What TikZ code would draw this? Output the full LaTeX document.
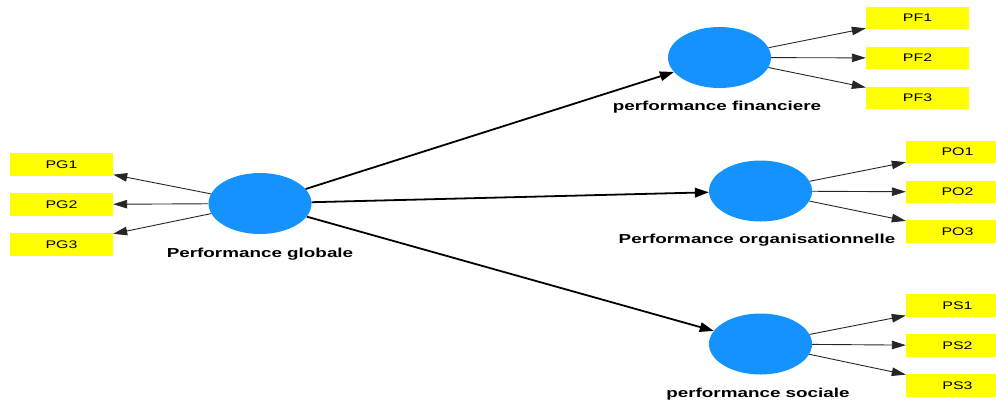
\documentclass[tikz,border=0pt]{standalone}
\usepackage{fontspec}
\setmainfont{Liberation Sans}[FakeStretch=1.45]
\usetikzlibrary{arrows.meta,shapes.geometric}
\definecolor{lvblue}{HTML}{1493FF}
\definecolor{mvyellow}{HTML}{FFFF00}
\tikzset{
  lv/.style={ellipse,fill=lvblue,draw=none,minimum width=103pt,minimum height=61pt,inner sep=0pt},
  mv/.style={rectangle,fill=mvyellow,draw=none,minimum width=103pt,minimum height=22.5pt,inner sep=0pt,font=\fontsize{11}{12}\selectfont},
  lvlabel/.style={anchor=base,font=\fontsize{13}{14}\selectfont\bfseries,inner sep=0pt},
  bigarrow/.style={line width=1.8pt,black,-{Triangle[length=14pt,width=9.5pt]}},
  smallarrow/.style={line width=0.9pt,black!85,-{Triangle[length=14pt,width=8.5pt]}}
}
\begin{document}
\begin{tikzpicture}[x=1pt,y=-1pt]
\useasboundingbox (0,0) rectangle (996,400);
\clip (0,0) rectangle (996,400);
% latent variables
\node[lv] (PG) at (260,203.5) {};
\node[lv] (PF) at (719.5,57.5) {};
\node[lv] (PO) at (760.5,191) {};
\node[lv] (PS) at (760.5,344) {};
% labels
\node[lvlabel] (lPG) at (260,257) {Performance globale};
\node[lvlabel] (lPF) at (717,110) {performance financiere};
\node[lvlabel] (lPO) at (757,243) {Performance organisationnelle};
\node[lvlabel] (lPS) at (758,397) {performance sociale};
% indicators
\node[mv] (PG1) at (61.5,164.5) {PG1};
\node[mv] (PG2) at (61.5,204.5) {PG2};
\node[mv] (PG3) at (61.5,244.5) {PG3};
\node[mv] (PF1) at (917.5,18) {PF1};
\node[mv] (PF2) at (917.5,58) {PF2};
\node[mv] (PF3) at (917.5,98) {PF3};
\node[mv] (PO1) at (957.5,152) {PO1};
\node[mv] (PO2) at (957.5,192) {PO2};
\node[mv] (PO3) at (957.5,231.5) {PO3};
\node[mv] (PS1) at (957.5,305.5) {PS1};
\node[mv] (PS2) at (957.5,345.5) {PS2};
\node[mv] (PS3) at (957.5,385.5) {PS3};
% structural arrows
\draw[bigarrow] (PG) -- (PF);
\draw[bigarrow] (PG) -- (PO);
\draw[bigarrow] (PG) -- (PS);
% measurement arrows
\foreach \i in {1,2,3}{
  \draw[smallarrow] (PG) -- (PG\i);
  \draw[smallarrow] (PF) -- (PF\i);
  \draw[smallarrow] (PO) -- (PO\i);
  \draw[smallarrow] (PS) -- (PS\i);
}
\end{tikzpicture}
\end{document}
